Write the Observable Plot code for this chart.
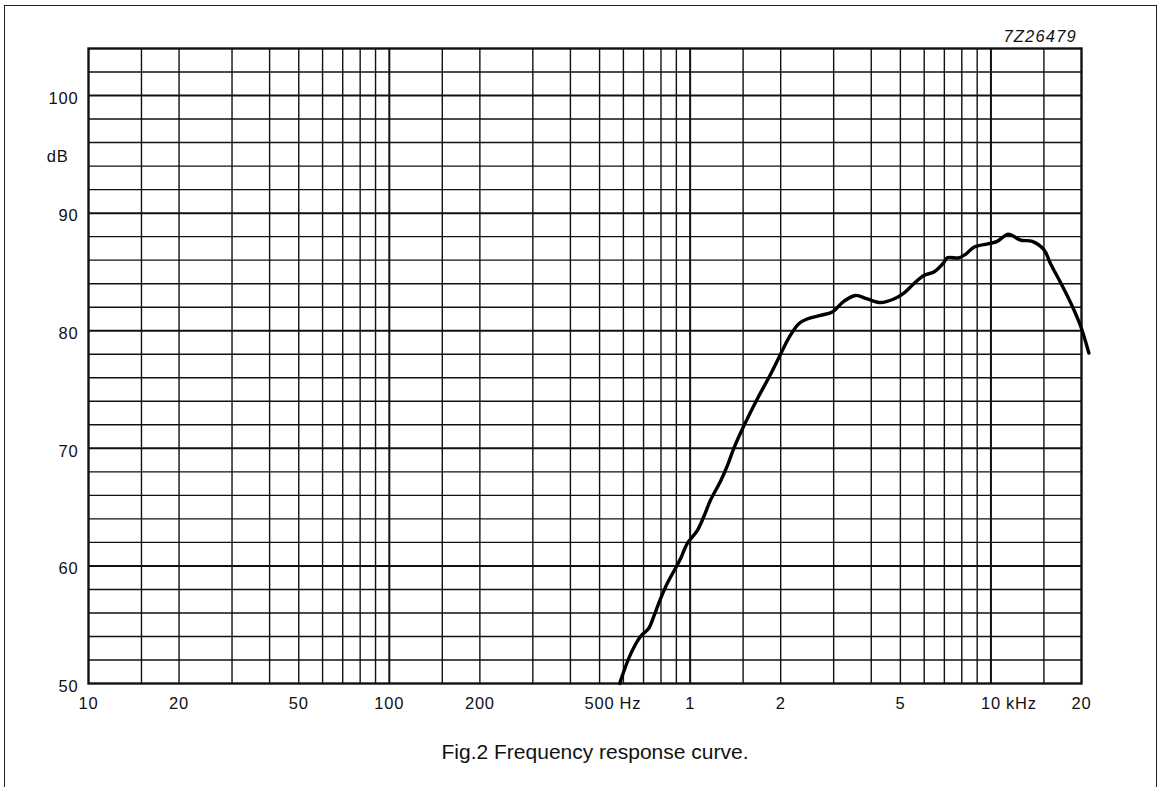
<!DOCTYPE html>
<html>
<head>
<meta charset="utf-8">
<script src="https://cdn.jsdelivr.net/npm/d3@7"></script>
<script src="https://cdn.jsdelivr.net/npm/@observablehq/plot@0.6"></script>
<style>
  html, body { margin: 0; padding: 0; background: #fff; width: 1162px; height: 787px; overflow: hidden; }
  #border { position: absolute; left: 4px; top: 5px; width: 1153px; height: 900px; border: 1.5px solid #222; box-sizing: border-box; }
  #chart { position: absolute; left: 0; top: 0; }
  #code { position: absolute; right: 85px; top: 27px; font-family: "Liberation Sans", Arial, sans-serif; font-style: italic; font-size: 16.5px; letter-spacing: 1.2px; color: #111; }
  #caption { position: absolute; left: 0; width: 1190px; top: 740px; text-align: center; font-family: "Liberation Sans", Arial, sans-serif; font-size: 21px; color: #111; }
  #chart svg text { letter-spacing: 0.8px; }
</style>
</head>
<body>
<div id="border"></div>
<div id="code">7Z26479</div>
<div id="chart"></div>
<div id="caption">Fig.2 Frequency response curve.</div>
<script>
// Frequency response curve (Hz, dB)
const freqHz = [583, 634, 684, 729, 757, 797, 839, 894, 929, 978, 1056, 1111, 1169, 1262, 1329, 1397, 1508, 1672, 1851, 1998, 2129, 2298, 2451, 2713, 2968, 3243, 3547, 3880, 4295, 4757, 5134, 5541, 5984, 6461, 6972, 7156, 7822, 8234, 8775, 9840, 10490, 11330, 11770, 12540, 13720, 14990, 15780, 17030, 18390, 19860, 21160];
const levelDb = [50, 52.5, 54.0, 54.7, 55.7, 57.2, 58.5, 59.8, 60.6, 61.9, 63.0, 64.2, 65.6, 67.2, 68.5, 70.0, 71.9, 74.2, 76.3, 78.0, 79.4, 80.6, 81.0, 81.3, 81.6, 82.5, 83.0, 82.7, 82.4, 82.7, 83.2, 84.0, 84.7, 85.0, 85.8, 86.2, 86.2, 86.5, 87.1, 87.4, 87.6, 88.2, 88.1, 87.7, 87.6, 86.9, 85.7, 84.1, 82.4, 80.4, 78.1];

// Grid
const gridMinorFreq = [15, 20, 30, 40, 50, 60, 70, 80, 90, 150, 200, 300, 400, 500, 600, 700, 800, 900, 1500, 2000, 3000, 4000, 5000, 6000, 7000, 8000, 9000, 15000];
const gridMajorFreq = [100, 1000, 10000];
const gridMinorDb = [52, 54, 56, 58, 62, 64, 66, 68, 72, 74, 76, 78, 82, 84, 86, 88, 92, 94, 96, 98, 102];
const gridMajorDb = [60, 70, 80, 90, 100];

// Ticks
const xTicks = [10, 20, 50, 100, 200, 500, 1000, 2000, 5000, 10000, 20000];
const xTickLabels = ["10", "20", "50", "100", "200", "500", "1", "2", "5", "10", "20"];
const yTicks = [50, 60, 70, 80, 90, 100];
const yTickLabels = ["50", "60", "70", "80", "90", "100"];
const yUnit = "dB";
const hzUnit = {f: 500, text: "Hz"};
const khzUnit = {f: 10000, text: "kHz"};

const data = freqHz.map((f, i) => ({f, db: levelDb[i]}));
const xTickData = xTicks.map((v, i) => ({v, label: xTickLabels[i]}));
const yTickData = yTicks.map((v, i) => ({v, label: yTickLabels[i]}));

const FS = 16.5;
const chart = Plot.plot({
  width: 1162,
  height: 723,
  marginLeft: 88,
  marginRight: 81,
  marginTop: 48,
  marginBottom: 40,
  style: {fontFamily: "'Liberation Sans', Arial, sans-serif", fontSize: "16px", color: "#111", background: "transparent"},
  x: {type: "log", domain: [10, 20000], axis: null},
  y: {domain: [50, 104], axis: null},
  marks: [
    Plot.ruleX(gridMinorFreq, {stroke: "#111", strokeWidth: 1.4}),
    Plot.ruleX(gridMajorFreq, {stroke: "#111", strokeWidth: 2}),
    Plot.ruleY(gridMinorDb, {stroke: "#111", strokeWidth: 1.4}),
    Plot.ruleY(gridMajorDb, {stroke: "#111", strokeWidth: 2}),
    Plot.frame({stroke: "#111", strokeWidth: 2.4}),
    Plot.text(xTickData, {x: "v", y: 50, text: "label", dy: 20, fontSize: FS, fill: "#111", textAnchor: "middle"}),
    Plot.text(yTickData, {x: 10, y: "v", text: "label", dx: -10, fontSize: FS, fill: "#111", textAnchor: "end", dy: 3}),
    Plot.text([hzUnit], {x: "f", y: 50, text: "text", dx: 20, dy: 20, fontSize: FS, fill: "#111", textAnchor: "start"}),
    Plot.text([khzUnit], {x: "f", y: 50, text: "text", dx: 15, dy: 20, fontSize: FS, fill: "#111", textAnchor: "start"}),
    Plot.text([yUnit], {x: 10, y: 94.8, text: (d) => d, dx: -20, fontSize: FS, fill: "#111", textAnchor: "end"}),
    Plot.line(data, {x: "f", y: "db", stroke: "#000", strokeWidth: 3.4, curve: "catmull-rom", clip: false})
  ]
});
document.getElementById("chart").appendChild(chart);
</script>
</body>
</html>
